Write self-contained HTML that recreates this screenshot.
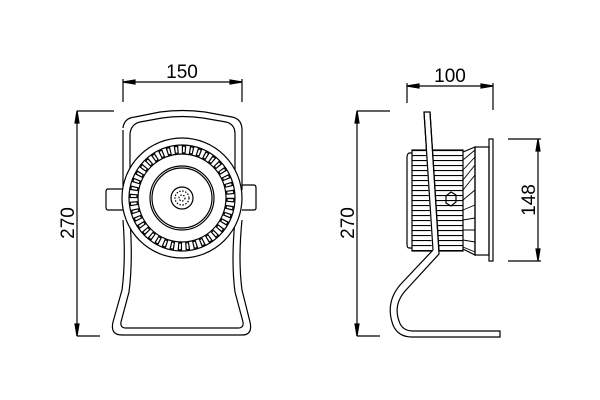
<!DOCTYPE html>
<html><head><style>body{margin:0;background:#fff}svg{display:block}</style></head><body>
<svg width="600" height="400" viewBox="0 0 600 400" xmlns="http://www.w3.org/2000/svg">
<defs>
<pattern id="fins" x="0" y="150" width="10" height="5" patternUnits="userSpaceOnUse"><rect width="10" height="5" fill="#fff"/><line x1="0" y1="0.5" x2="10" y2="0.5" stroke="#000" stroke-width="1.2"/></pattern>
</defs>
<g fill="none" stroke="#000" stroke-width="1.2">
<line x1="123" y1="82" x2="242" y2="82"/>
<line x1="123" y1="79" x2="123" y2="102"/><line x1="242" y1="79" x2="242" y2="102"/>
<path d="M123 82 l12 -2 v4z M242 82 l-12 -2 v4z" fill="#000"/>
<line x1="77" y1="111" x2="77" y2="336"/>
<line x1="77" y1="111" x2="114" y2="111"/><line x1="77" y1="336" x2="100" y2="336"/>
<path d="M77 111 l-2 12 h4z M77 336 l-2 -12 h4z" fill="#000"/>
<path d="M123 128 Q124 118 135 117 L160 112 Q182 109 205 112 L232 117 Q242 119 242 130 L242 190 M123 130 L123 190"/>
<path d="M130 134 Q131 124 140 122 L162 118 Q182 115 203 118 L226 122 Q235 124 235 134 L235 185 M130 134 L130 185"/>
<path d="M123 220 Q126 260 122 290 L113 322 Q110 335 122 335 L242 335 Q253 335 250 322 L242 290 Q238 260 242 220"/>
<path d="M130 220 Q133 262 129 292 L121 322 Q120 328 126 328 L238 328 Q244 328 243 322 L235 292 Q231 262 235 220"/>
<path d="M123 189 H108 Q106 189 106 192 V207 Q106 210 108 210 H123"/>
<path d="M242 185 H254 Q256 185 256 188 V208 Q256 210 254 210 H242"/>
<circle cx="182" cy="198" r="60" fill="#fff"/>
<circle cx="182" cy="198" r="53"/>
<circle cx="182" cy="198" r="44"/>
<circle cx="182" cy="198" r="48.5" stroke-width="8" stroke-dasharray="4.2 3.4"/>
<circle cx="182" cy="198" r="48.5" stroke="#fff" stroke-width="5.6" stroke-dasharray="1.8 5.8" stroke-dashoffset="-1.2"/>
<circle cx="182" cy="198" r="32"/>
<circle cx="182" cy="198" r="30"/>
<circle cx="182" cy="198" r="11"/>
<circle cx="182" cy="198" r="7" stroke-dasharray="1.5 1.5"/>
<circle cx="182" cy="198" r="3" stroke-dasharray="1.5 1.5"/>
<line x1="407" y1="86" x2="493" y2="86"/>
<line x1="407" y1="83" x2="407" y2="103"/><line x1="493" y1="83" x2="493" y2="110"/>
<path d="M407 86 l12 -2 v4z M493 86 l-12 -2 v4z" fill="#000"/>
<line x1="357" y1="111" x2="357" y2="336"/>
<line x1="357" y1="111" x2="390" y2="111"/><line x1="357" y1="336" x2="380" y2="336"/>
<path d="M357 111 l-2 12 h4z M357 336 l-2 -12 h4z" fill="#000"/>
<line x1="538" y1="139" x2="538" y2="261"/>
<line x1="508" y1="139" x2="541" y2="139"/><line x1="508" y1="261" x2="541" y2="261"/>
<path d="M538 139 l-2 12 h4z M538 261 l-2 -12 h4z" fill="#000"/>
<rect x="412" y="150" width="51" height="101" fill="url(#fins)"/>
<path d="M412 153 h-3 Q407 154 407 158 V244 Q407 248 409 248 h3"/>
<path d="M463 152 L475 147 V255 L463 249"/>
<path d="M463 160 L475 150 M463 170 L475 157 M463 180 L475 165 M463 190 L475 175 M463 200 L475 190 M463 210 L475 205 M463 220 L475 218 M463 230 L475 230 M463 240 L475 242 M463 247 L475 252" stroke-width="0.9"/>
<rect x="475" y="147" width="14" height="108"/>
<rect x="489" y="139" width="4" height="122"/>
<path d="M424 112 L433 250 L400 285 Q385 303 393 325 Q398 337 412 337 L500 337 V331 L413 331 Q402 331 399 321 Q393 304 406 290 L439 254 L430 112 Z" fill="#fff"/>
<line x1="428" y1="150" x2="434" y2="250" stroke="#fff" stroke-width="4"/>
<path d="M424 112 L433 250 M430 112 L439 250"/>
<path d="M446 196 l5 -4 l5 3 l0 7 l-5 4 l-5 -3z"/>
</g>
<g font-family="Liberation Sans, sans-serif" font-size="19" fill="#000">
<text x="182" y="78" text-anchor="middle">150</text>
<text x="450" y="82" text-anchor="middle">100</text>
<text transform="translate(74 223) rotate(-90)" text-anchor="middle">270</text>
<text transform="translate(354 223) rotate(-90)" text-anchor="middle">270</text>
<text transform="translate(535 200) rotate(-90)" text-anchor="middle">148</text>
</g>
</svg>
</body></html>
